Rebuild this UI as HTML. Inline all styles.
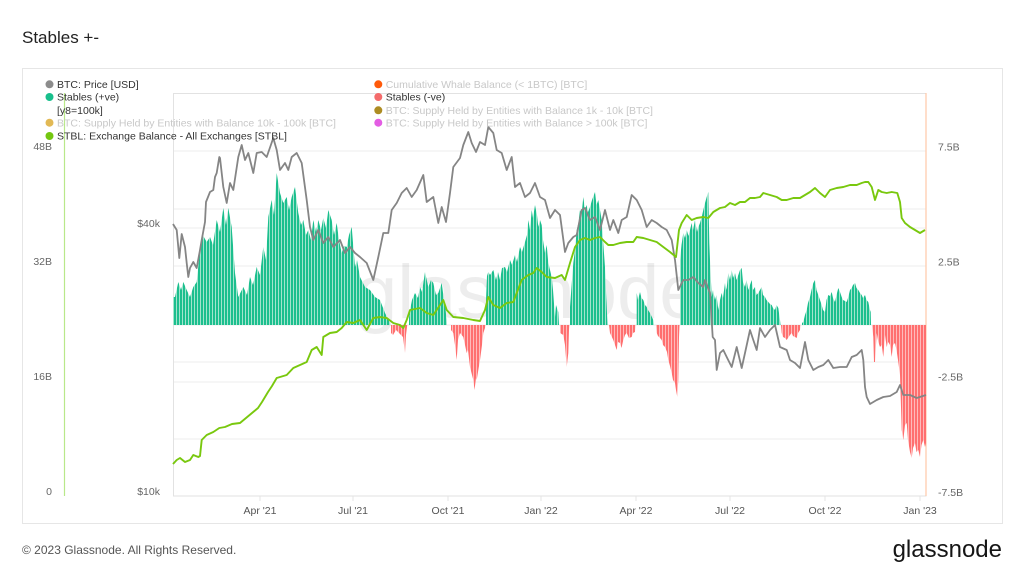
<!DOCTYPE html>
<html><head><meta charset="utf-8"><style>
html,body{margin:0;padding:0;background:#fff;}
body{width:1024px;height:576px;overflow:hidden;font-family:"Liberation Sans",Arial,sans-serif;}
svg text{font-family:"Liberation Sans",Arial,sans-serif;}
</style></head><body>
<svg width="1024" height="576" viewBox="0 0 1024 576" xmlns="http://www.w3.org/2000/svg">
<defs>
<pattern id="pt" patternUnits="userSpaceOnUse" width="3" height="10"><rect x="0" y="0" width="2" height="10" fill="#1cbf8e"/><rect x="2" y="0" width="1" height="10" fill="#a3e4cd"/></pattern>
<pattern id="pr" patternUnits="userSpaceOnUse" width="3" height="10"><rect x="0" y="0" width="2" height="10" fill="#ff6f6f"/><rect x="2" y="0" width="1" height="10" fill="#ffbaba"/></pattern>
</defs>
<rect width="1024" height="576" fill="#fff"/>
<text x="22" y="43" font-size="17" fill="#222">Stables +-</text>
<rect x="22.5" y="68.5" width="980" height="455" fill="none" stroke="#e6e6e6"/>
<!-- gridlines -->
<g stroke="#ececec" stroke-width="1">
<line x1="173" y1="151" x2="926" y2="151"/>
<line x1="173" y1="209" x2="926" y2="209"/>
<line x1="173" y1="228" x2="926" y2="228"/>
<line x1="173" y1="266" x2="926" y2="266"/>
<line x1="173" y1="325" x2="926" y2="325"/>
<line x1="173" y1="362" x2="926" y2="362"/>
<line x1="173" y1="382" x2="926" y2="382"/>
<line x1="173" y1="439" x2="926" y2="439"/>
</g>
<rect x="173.5" y="93.5" width="752.5" height="402.5" fill="none" stroke="#e2e2e2"/>
<line x1="926" y1="93" x2="926" y2="496" stroke="#ffc9a8" stroke-width="1.2"/>
<line x1="64.5" y1="93" x2="64.5" y2="496" stroke="#b9e88a" stroke-width="1.2"/>
<g stroke="#e4e4e4"><line x1="260" y1="496" x2="260" y2="501"/><line x1="353" y1="496" x2="353" y2="501"/><line x1="448" y1="496" x2="448" y2="501"/><line x1="541" y1="496" x2="541" y2="501"/><line x1="636" y1="496" x2="636" y2="501"/><line x1="730" y1="496" x2="730" y2="501"/><line x1="825" y1="496" x2="825" y2="501"/><line x1="920" y1="496" x2="920" y2="501"/></g>
<!-- watermark -->
<text x="355" y="318" font-size="76" fill="#000" fill-opacity="0.07">glassnode</text>
<!-- teal bars -->
<g fill="url(#pt)">
<polygon points="173,325 173,297 175,297 178.3,282 181,290 183.3,282 186.7,290 190,297 193.3,287 196.7,282 200,250 203.3,236 206.7,242 210,237 213,245 216.7,220 220,232 223.3,208 226,225 228.3,208 231.7,227 235,273 238.3,297 243.3,287 247,295 250,277 253,285 256.7,267 260,275 263.3,247 266,260 268.3,217 271.7,200 274,215 276.7,173 280,193 283.3,203 286.7,197 289,210 291.7,197 295,187 298.3,213 301,225 303.3,220 306,235 308.3,230 311,240 313.3,220 316,232 318.3,220 321,230 323.3,218 326,228 328.3,210 331.7,220 334,235 336.7,223 339,240 341.7,253 344,246 346.7,247 349,235 351.7,227 355,267 357,260 360,277 365,287 370,290 375,297 380,300 385,313 390,323 390,325"/>
<polygon points="409,325 409,318 410,310 412,300 415,293 418,298 420,287 422,292 425,272 428.3,287 431,280 433.3,283 436,295 438.3,293 441.7,283 444,300 445,305 446.7,320 447,325"/>
<polygon points="486,325 486,300 487,276 488.3,272 490,275 493.3,270 496,280 498,272 500,280 502,268 505,267 507,272 510,260 512,265 515,255 517,262 520,247 522,252 525,242 527,235 528.3,220 530,230 531.7,210 533,218 535,205 537,215 538.3,227 540,220 541.7,225 543,240 545,253 546.7,245 548.3,263 550,270 551.7,277 553,290 555,317 556,305 558.3,312 559,325"/>
<polygon points="570,325 570,307 572,280 573.3,263 575,250 576.7,230 578,225 580,210 581.5,215 583.3,197 585,210 586.7,205 588,212 590,207 592,200 595,192 596.5,205 598.3,200 600,210 601.7,220 603,240 605,267 606,290 607.3,320 607.5,325"/>
<polygon points="636.7,325 636.7,293 638,300 640,292 641.5,298 643.3,300 645,305 646.7,307 648,310 650,313 653.3,320 654,325"/>
<polygon points="680,325 680,260 681.5,245 683.3,233 685,238 686.7,230 688.5,236 691.7,223 693,230 695,220 697,232 698.3,227 700,223 701.7,217 703.3,210 705,203 706.7,197 708.3,192 709.3,243 710,260 711.7,297 713,290 715,300 716.5,295 718.3,310 720,300 721.7,293 723,298 725,283 726.5,290 728.3,273 730,280 731.7,270 733,278 735,273 736.5,280 738.3,275 740,270 741.7,268 743,282 745,287 746.5,280 748.3,290 750,285 751.7,280 753,290 755,287 756.5,295 758.3,293 760,290 761.7,287 763,295 765,297 766.5,300 768.3,302 770,304 771.7,305 773,308 775,310 776.5,305 778.3,308 780,320 780.5,325"/>
<polygon points="802,325 802,323 803.3,322 805,315 806.7,310 808,303 810,297 811.5,290 813.3,283 815,280 816.5,290 818.3,295 820,300 821.7,305 823,310 825,312 826.5,300 828.3,295 830,296 831.7,292 833,298 835,302 836.5,295 838.3,288 840,292 841.7,297 843,300 845,301 846.7,302 848,298 850,290 851.7,288 853,285 855,283 856.5,288 858.3,290 860,293 861.7,295 863,298 865,295 866.5,300 868.3,302 870,310 870.7,312 871,325"/>
</g>
<!-- red bars -->
<g fill="url(#pr)">
<polygon points="391,325 391,333 393,335 396,330 400,334 403,337 405,353 406,335 407,327 407.5,325"/>
<polygon points="451,325 451,330 453.3,333 455,345 456.7,360 458,340 460,333 463.3,337 465,345 466.7,353 468,350 470,367 472,375 473.3,380 474.5,390 476,378 476.7,380 478,372 480,360 482,345 483.3,333 485,328 485.5,325"/>
<polygon points="560,325 560,333 563.3,335 565,345 566.7,367 568.3,353 569,330 569.5,325"/>
<polygon points="609,325 610,333 613.3,340 615,345 616.7,350 618,342 620,343 621.5,348 623.3,340 625,335 626.7,333 629,338 631.7,337 633,333 635,332 635.5,325"/>
<polygon points="656,325 656.7,333 658,336 660,338 661.7,340 663,345 665,347 667,352 668.3,360 670,366 671.7,373 673,380 675,383 676,390 677.3,397 678.3,380 679,337 679.5,325"/>
<polygon points="781,325 781.7,333 783,337 785,338 786.7,340 788,338 790,335 791.7,333 793,336 795,337 796.7,338 798,333 800,330 800.5,325"/>
<polygon points="872,325 873.3,337 874,362 875,362 876.7,333 878.3,342 880,347 881.7,345 883.3,357 885,335 886.7,347 888.3,342 890,345 891.7,357 893,345 895,343 896.5,350 898.3,362 900,375 901.7,430 903.3,440 905,425 906.7,423 908,440 910,452 911.7,458 913,448 915,443 916.5,452 918.3,450 920,457 921.5,445 923.3,440 925,447 926,443 926,325"/>
</g>
<!-- BTC price -->
<polyline fill="none" stroke="#858585" stroke-width="1.8" stroke-linejoin="round" points="173,224 176.7,230 179.3,258 181.7,234 185,247 186.7,263 188.3,277 190,268 193.3,262 196.7,268 200,250 201.7,240 205,222 206,202 210,192 213.3,190 215,177 216.7,173 219.3,157 220,158 223.3,187 226.7,203 230,183 233.3,190 238.3,157 241.7,145 245,160 248.3,153 253.3,173 256.7,153 261.7,152 266.7,157 273.3,138 276.7,150 280,170 285,163 288.3,170 291.7,157 296.7,153 301.7,163 306.7,200 310,227 313.3,240 318.3,230 323.3,243 328.3,237 333.3,247 340,240 345,253 350,247 355,253 360,257 366.7,263 373.3,280 378.3,257 383.3,233 388.3,233 391.7,210 396.7,203 401.7,193 406.7,188 411.7,197 416.7,190 423.3,175 426.7,202 433.3,197 438.3,223 441.7,207 446,222 450,193 453.3,167 460,158 463.3,145 468.3,132 471.7,143 476,152 480,142 485,145 488.3,127 493.3,133 496.7,150 501.7,153 506.7,170 511.7,157 515,187 520,183 525,197 530,193 535,183 540,197 545,200 550,218 555,210 560,215 565,252 568.3,243 573.3,237 576.7,235 581.7,210 585,208 590,220 595,217 600,230 605,210 610,230 613.3,220 618.3,233 621.7,220 626.7,217 631.7,195 636.7,200 641.7,210 646.7,227 651.7,220 656.7,223 661.7,227 666.7,230 671.7,240 675,260 678.3,290 683.3,280 688.3,280 693.3,277 698.3,283 703.3,287 705,280 710,293 712.7,337 715,340 716.7,370 720,353 723.3,350 726.7,357 731.7,367 736.7,347 741.7,368 745,353 750,330 753.3,340 756.7,350 760,328 765,337 770,330 775,325 780,347 786.7,350 790,360 795,363 800,368 805,342 808.3,360 813.3,370 818.3,367 823.3,365 828.3,360 833.3,368 840,367 846.7,367 851.7,357 856.7,355 861.7,350 863.3,360 865,387 866.7,397 870,404 876.7,400 883.3,397 890,396 896.7,392 900,385 903.3,395 910,395 916.7,398 926,395"/>
<!-- STBL exchange balance -->
<polyline fill="none" stroke="#79c80e" stroke-width="1.9" stroke-linejoin="round" points="173,464 176.7,460 180,458 185,462 190,460 193.3,455 198.3,457 200,456 201.7,440 206.7,435 213.3,432 219.3,428 225,427 232,424 240,423 246,418 252,413 258,408 262,402 268,392 272,386 276.7,378 286.7,375 293.3,368 300,365 306.7,362 311.7,350 316.7,347 321.7,355 323.3,337 330,333 336.7,332 341.7,328 346.7,322 353.3,323 360,320 366.7,330 373.3,318 380,317 386.7,318 393.3,323 400,325 403.3,328 406.7,320 410,310 420,308 426.7,313 433.3,315 443.3,300 446.7,310 453.3,317 463.3,318 473.3,320 480,321 485,310 488.3,297 493.3,305 500,308 506.7,303 513.3,302 516.7,293 521.7,280 528.3,275 533.3,273 536.7,268 541.7,272 546.7,277 555,278 561.7,275 565,280 570,263 575,247 580,240 585,238 590,240 595,238 600,237 605,242 608.3,245 613.3,245 620,243 626.7,242 633.3,242 636.7,237 643.3,238 650,240 656.7,242 663.3,247 670,252 676,257 679,230 681.7,223 686.7,215 691.7,220 696.7,218 703.3,217 708.3,218 713.3,212 720,208 725,207 730,203 735,205 740,202 745,202 750,198 755,198 760,197 763.3,193 770,195 776.7,197 781.7,200 786.7,200 793.3,198 800,198 805,195 810,192 815,188 820,193 825,197 830,190 836.7,188 843.3,187 850,185 856.7,185 861.7,183 865,182 868.3,182 871.7,187 875,200 878.3,190 881.7,192 886.7,193 891.7,192 897.3,193 900,202 901.7,218 905,223 910,227 915,230 920,233 925,230"/>
<!-- axis labels -->
<g font-size="10.5" fill="#666">
<text x="52" y="150" text-anchor="end">48B</text>
<text x="52" y="265" text-anchor="end">32B</text>
<text x="52" y="380" text-anchor="end">16B</text>
<text x="52" y="495" text-anchor="end">0</text>
<text x="160" y="227" text-anchor="end">$40k</text>
<text x="160" y="495" text-anchor="end">$10k</text>
<text x="938" y="150.5">7.5B</text>
<text x="938" y="265.5">2.5B</text>
<text x="938" y="380.5">-2.5B</text>
<text x="938" y="496">-7.5B</text>
</g>
<g font-size="10.5" fill="#555" text-anchor="middle">
<text x="260" y="514">Apr '21</text>
<text x="353" y="514">Jul '21</text>
<text x="448" y="514">Oct '21</text>
<text x="541" y="514">Jan '22</text>
<text x="636" y="514">Apr '22</text>
<text x="730" y="514">Jul '22</text>
<text x="825" y="514">Oct '22</text>
<text x="920" y="514">Jan '23</text>
</g>
<!-- legend -->
<g font-size="10.5">
<circle cx="49.5" cy="84.3" r="4" fill="#8c8c8c"/><text x="57" y="88" fill="#333">BTC: Price [USD]</text>
<circle cx="49.5" cy="97" r="4" fill="#19bf8c"/><text x="57" y="100.7" fill="#333">Stables (+ve)</text>
<text x="57" y="114" fill="#333">[y8=100k]</text>
<circle cx="49.5" cy="122.7" r="4" fill="#e2b955"/><text x="57" y="126.4" fill="#c8c8c8">BTC: Supply Held by Entities with Balance 10k - 100k [BTC]</text>
<circle cx="49.5" cy="136" r="4" fill="#74c710"/><text x="57" y="139.7" fill="#333">STBL: Exchange Balance - All Exchanges [STBL]</text>
<circle cx="378.3" cy="84.3" r="4" fill="#ff5a0a"/><text x="385.7" y="88" fill="#c8c8c8">Cumulative Whale Balance (&lt; 1BTC) [BTC]</text>
<circle cx="378.3" cy="97" r="4" fill="#f46b6b"/><text x="385.7" y="100.7" fill="#333">Stables (-ve)</text>
<circle cx="378.3" cy="110.3" r="4" fill="#ad8c22"/><text x="385.7" y="114" fill="#c8c8c8">BTC: Supply Held by Entities with Balance 1k - 10k [BTC]</text>
<circle cx="378.3" cy="122.7" r="4" fill="#e35de3"/><text x="385.7" y="126.4" fill="#c8c8c8">BTC: Supply Held by Entities with Balance &gt; 100k [BTC]</text>
</g>
<!-- footer -->
<text x="22" y="554" font-size="12" fill="#555">© 2023 Glassnode. All Rights Reserved.</text>
<text x="1002" y="557" font-size="24" fill="#151515" text-anchor="end">glassnode</text>
</svg>
</body></html>
